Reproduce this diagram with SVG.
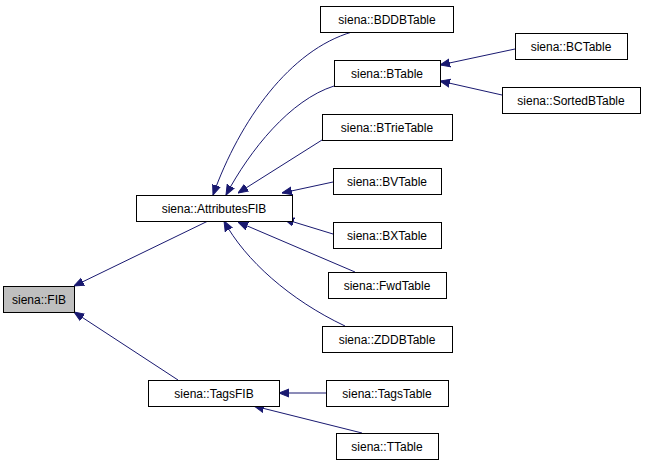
<svg xmlns="http://www.w3.org/2000/svg" width="648" height="467" viewBox="0 0 648 467">
<style>
rect{fill:#fff;stroke:#000;stroke-width:1}
text{font-family:"Liberation Sans",Arial,sans-serif;font-size:12px;text-anchor:middle}
.e{fill:none;stroke:#191970;stroke-width:1}
</style>
<defs><marker id="a" viewBox="0 0 10 10" refX="10" refY="5" markerWidth="10" markerHeight="10" markerUnits="userSpaceOnUse" orient="auto"><path d="M0,1 L10,5 L0,9 z" fill="#191970" stroke="#191970"/></marker></defs>
<rect width="648" height="467" style="stroke:none"/>
<g id="edges">
<path class="e" marker-end="url(#a)" d="M208,221 L74,286"/>
<path class="e" marker-end="url(#a)" d="M178,380 L74,312"/>
<path class="e" marker-end="url(#a)" d="M352,32 C290,50 240,120 213,195"/>
<path class="e" marker-end="url(#a)" d="M334,86 C290,100 250,150 226,195"/>
<path class="e" marker-end="url(#a)" d="M322,140 L238,193"/>
<path class="e" marker-end="url(#a)" d="M333,182 L282,193"/>
<path class="e" marker-end="url(#a)" d="M333,234 L284,219"/>
<path class="e" marker-end="url(#a)" d="M355,272 L238,222"/>
<path class="e" marker-end="url(#a)" d="M345,326 C290,300 245,260 224,221"/>
<path class="e" marker-end="url(#a)" d="M326,393 L279,393"/>
<path class="e" marker-end="url(#a)" d="M362,433 L254,406"/>
<path class="e" marker-end="url(#a)" d="M515,49 L440,65"/>
<path class="e" marker-end="url(#a)" d="M502,95 L440,81"/>
</g>
<g id="FIB"><rect x="3.5" y="286.5" width="71" height="26" style="fill:#bfbfbf"/><text x="39" y="304">siena::FIB</text></g>
<g id="AttributesFIB"><rect x="136.5" y="195.5" width="156" height="26"/><text x="214" y="213">siena::AttributesFIB</text></g>
<g id="TagsFIB"><rect x="148.5" y="380.5" width="131" height="26"/><text x="214" y="398">siena::TagsFIB</text></g>
<g id="BDDBTable"><rect x="320.5" y="6.5" width="133" height="26"/><text x="387" y="24">siena::BDDBTable</text></g>
<g id="BTable"><rect x="334.5" y="60.5" width="106" height="26"/><text x="387" y="78">siena::BTable</text></g>
<g id="BTrieTable"><rect x="322.5" y="114.5" width="130" height="26"/><text x="387" y="132">siena::BTrieTable</text></g>
<g id="BVTable"><rect x="333.5" y="168.5" width="108" height="26"/><text x="387" y="186">siena::BVTable</text></g>
<g id="BXTable"><rect x="333.5" y="222.5" width="108" height="26"/><text x="387" y="240">siena::BXTable</text></g>
<g id="FwdTable"><rect x="328.5" y="272.5" width="118" height="26"/><text x="387" y="290">siena::FwdTable</text></g>
<g id="ZDDBTable"><rect x="322.5" y="326.5" width="130" height="26"/><text x="387" y="344">siena::ZDDBTable</text></g>
<g id="TagsTable"><rect x="326.5" y="380.5" width="122" height="26"/><text x="387" y="398">siena::TagsTable</text></g>
<g id="TTable"><rect x="336.5" y="433.5" width="102" height="26"/><text x="387" y="451">siena::TTable</text></g>
<g id="BCTable"><rect x="515.5" y="33.5" width="112" height="26"/><text x="571" y="51">siena::BCTable</text></g>
<g id="SortedBTable"><rect x="502.5" y="87.5" width="138" height="26"/><text x="571" y="105">siena::SortedBTable</text></g>
</svg>
